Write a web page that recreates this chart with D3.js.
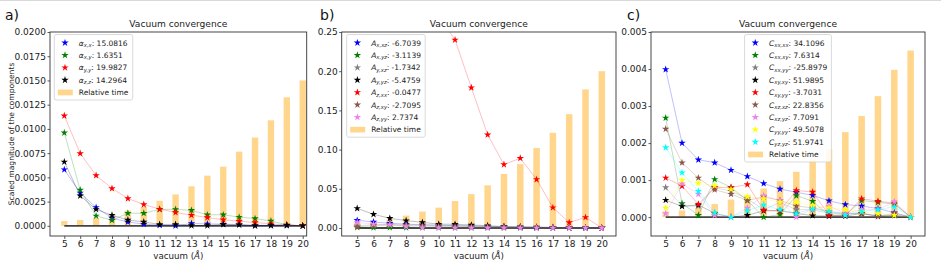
<!DOCTYPE html>
<html>
<head>
<meta charset="utf-8">
<script src="https://cdn.jsdelivr.net/npm/d3@7"></script>
<style>
  body { margin: 0; background: #fff; }
  svg { font-family: "DejaVu Sans", sans-serif; }
</style>
</head>
<body>
<div id="chart"></div>
<script>
// vacuum sizes (x axis categories)
const vacuum = [5, 6, 7, 8, 9, 10, 11, 12, 13, 14, 15, 16, 17, 18, 19, 20];
// relative time, normalised to the 20 Å run
const relTime = [0.033, 0.04, 0.055, 0.079, 0.105, 0.13, 0.172, 0.216, 0.272, 0.345, 0.407, 0.51, 0.607, 0.726, 0.884, 1.0];
const relTimePeak = [0.015, 0.2, 0.0045];

// panel a) polarisability
const alphaXX = [0.0058, 0.0034, 0.0019, 0.0008, 0.0004, 0.00017, 0.00007, 0.0, 0.00024, 0.0002, 0.00017, 0.00014, 0.00005, 0.00005, 0.00003, 0];
const alphaXY = [0.0096, 0.0037, 0.00103, 0.00058, 0.0013, 0.0013, 0.0017, 0.0017, 0.0016, 0.00114, 0.00114, 0.0009, 0.00075, 0.0005, 0.0001, 0];
const alphaYY = [0.01136, 0.00747, 0.0052, 0.00386, 0.00282, 0.0022, 0.00172, 0.00138, 0.0011, 0.00086, 0.00062, 0.00048, 0.00034, 0.0002, 0.0001, 0];
const alphaZZ = [0.0066, 0.0031, 0.0017, 0.0011, 0.0006, 0.0004, 0.00014, 0.00014, 0.00003, 0.00003, 0.00014, 0.0001, 0.0, 0.00003, 0.00007, 0];
const alphaLabels = [["α", "x,x", "15.0816"], ["α", "x,y", "1.6351"], ["α", "y,y", "19.9827"], ["α", "z,z", "14.2964"]];

// panel b) A tensor
const aXxz = [0.0098, 0.0077, 0.006, 0.005, 0.004, 0.0035, 0.003, 0.0025, 0.002, 0.0015, 0.001, 0.0008, 0.0005, 0.0003, 0.0002, 0];
const aXyz = [0.0008, 0.0005, 0.0007, 0.0006, 0.0005, 0.0004, 0.0004, 0.0003, 0.0003, 0.0002, 0.0002, 0.0001, 0.0001, 0.0001, 0.0001, 0];
const aYxz = [0.003, 0.004, 0.0045, 0.004, 0.004, 0.0035, 0.003, 0.0025, 0.002, 0.0015, 0.001, 0.0008, 0.0005, 0.0003, 0.0002, 0];
const aYyz = [0.025, 0.0175, 0.0124, 0.0094, 0.0072, 0.005, 0.0047, 0.0038, 0.003, 0.0017, 0.0015, 0.0012, 0.0008, 0.0005, 0.0004, 0];
const aZxx = [0.62, 0.52, 0.44, 0.37, 0.31, 0.271, 0.240, 0.179, 0.119, 0.081, 0.089, 0.062, 0.026, 0.007, 0.0136, 0];
const aZxy = [0.0015, 0.003, 0.004, 0.003, 0.0025, 0.002, 0.0018, 0.0015, 0.0012, 0.001, 0.0008, 0.0006, 0.0004, 0.0003, 0.0002, 0];
const aZyy = [0.007, 0.005, 0.004, 0.002, 0.0005, 0.0003, 0.0002, 0.0001, 0.0001, 0, 0, 0, 0, 0, 0, 0];
const aLabels = [["A", "x,xz", "-6.7039"], ["A", "x,yz", "-3.1139"], ["A", "y,xz", "-1.7342"], ["A", "y,yz", "-5.4759"],
                 ["A", "z,xx", "-0.0477"], ["A", "z,xy", "-2.7095"], ["A", "z,yy", "2.7374"]];

// panel c) C tensor
const cXXXX = [0.00399, 0.0020, 0.00155, 0.00147, 0.00127, 0.00110, 0.00091, 0.00076, 0.00067, 0.00059, 0.00044, 0.00034, 0.00030, 0.00023, 0.00012, 0];
const cXXXY = [0.00268, 0.00037, 0.00005, 0.00102, 0.0008, 0.00045, 0.0, 0.00007, 0.00058, 0.00043, 0.00005, 0.00005, 0.00045, 0.0004, 0.00035, 0];
const cXXYY = [0.0008, 0.0003, 0.0003, 0.0008, 0.0007, 0.0005, 0.0002, 0.0004, 0.0002, 0.0002, 0.0001, 0.0001, 0.0001, 0.00005, 0.00005, 0];
const cXYXY = [0.00046, 0.00029, 0.00033, 0.0001, 0.0, 0.00005, 0.00017, 0.00017, 0.0001, 0.00004, 0.00003, 0.00003, 0.0001, 0.00002, 0.00005, 0];
const cXYYY = [0.00106, 0.00084, 0.00035, 0.0008, 0.0008, 0.00088, 0.00019, 0.00017, 0.00072, 0.00068, 0.00005, 0.00005, 0.0005, 0.00043, 0.00038, 0];
const cXZXZ = [0.00238, 0.00147, 0.00106, 0.00074, 0.00062, 0.00045, 0.00055, 0.00045, 0.0003, 0.00025, 0.00015, 0.0001, 0.0001, 0.00002, 0.0001, 0];
const cXZYZ = [0.0001, 0.0009, 0.00062, 0.00005, 0.0, 0.00025, 0.00058, 0.00045, 0.0, 0.00022, 0.0003, 0.0001, 0.0002, 0.0002, 0.00042, 0];
const cYYYY = [0.00025, 0.001, 0.00092, 0.00085, 0.00075, 0.00055, 0.0005, 0.0004, 0.0004, 0.0003, 0.00025, 0.0002, 0.00015, 0.0001, 0.00005, 0];
const cYZYZ = [0.00188, 0.0012, 0.0007, 0.00012, 0.0, 0.00017, 0.00033, 0.0002, 0.0001, 0.00022, 0.00015, 0.00005, 0.00015, 0.0002, 0.00028, 0];
const cLabels = [["C", "xx,xx", "34.1096"], ["C", "xx,xy", "7.6314"], ["C", "xx,yy", "-25.8979"], ["C", "xy,xy", "51.9895"],
                 ["C", "xy,yy", "-3.7031"], ["C", "xz,xz", "22.8356"], ["C", "xz,yz", "7.7091"], ["C", "yy,yy", "49.5078"], ["C", "yz,yz", "51.9741"]];

const yTicksA = [0, 0.0025, 0.005, 0.0075, 0.01, 0.0125, 0.015, 0.0175, 0.02];
const yTicksB = [0, 0.05, 0.1, 0.15, 0.2, 0.25];
const yTicksC = [0, 0.001, 0.002, 0.003, 0.004, 0.005];

const panels = [
  { tag: "a)", tagX: 5, left: 50, right: 306.7, xDom: [4.1, 20.25], yDom: [-0.00105, 0.02], ticks: yTicksA, fmt: d3.format(".4f"),
    series: [alphaXX, alphaXY, alphaYY, alphaZZ], colors: ["blue", "green", "red", "black"], labels: alphaLabels,
    legendAnchor: "left", legendDx: 4.3, ylabel: "Scaled magnitude of the components" },
  { tag: "b)", tagX: 320, left: 341.7, right: 616, xDom: [4.05, 20.87], yDom: [-0.0102, 0.25], ticks: yTicksB, fmt: d3.format(".2f"),
    series: [aXxz, aXyz, aYxz, aYyz, aZxx, aZxy, aZyy], colors: ["blue", "green", "gray", "black", "red", "#8c564b", "violet"], labels: aLabels,
    legendAnchor: "left", legendDx: 5 },
  { tag: "c)", tagX: 627, left: 651, right: 925, xDom: [4.1, 20.88], yDom: [-0.00051, 0.005], ticks: yTicksC, fmt: d3.format(".3f"),
    series: [cXXXX, cXXXY, cXXYY, cXYXY, cXYYY, cXZXZ, cXZYZ, cYYYY, cYZYZ],
    colors: ["blue", "green", "gray", "black", "red", "#8c564b", "violet", "yellow", "cyan"], labels: cLabels,
    legendAnchor: "center", legendDx: 0 }
];

const TOP = 32, BOTTOM = 236;

const svg = d3.select("#chart").append("svg")
  .attr("width", 941).attr("height", 274);

svg.append("rect").attr("width", 941).attr("height", 274).attr("fill", "#fff");
svg.append("line").attr("x1", 0).attr("x2", 941).attr("y1", 0.5).attr("y2", 0.5)
  .attr("stroke", "#d9d9d9").attr("stroke-width", 1);

const star = d3.symbol().type(d3.symbolStar).size(17);

panels.forEach((p, pi) => {
  const x = d3.scaleLinear().domain(p.xDom).range([p.left, p.right]);
  const y = d3.scaleLinear().domain(p.yDom).range([BOTTOM, TOP]);
  const g = svg.append("g");

  const clipId = "clip" + pi;
  svg.append("clipPath").attr("id", clipId).append("rect")
    .attr("x", p.left).attr("y", TOP).attr("width", p.right - p.left).attr("height", BOTTOM - TOP);
  const plot = g.append("g").attr("clip-path", `url(#${clipId})`);

  // relative time bars
  const bw = x(0.4) - x(0);
  plot.selectAll("rect.bar").data(vacuum).enter().append("rect")
    .attr("class", "bar")
    .attr("x", d => x(d) - bw / 2)
    .attr("y", (d, i) => y(relTime[i] * relTimePeak[pi]))
    .attr("width", bw)
    .attr("height", (d, i) => y(0) - y(relTime[i] * relTimePeak[pi]))
    .attr("fill", "orange").attr("fill-opacity", 0.45);

  // zero line
  plot.append("line")
    .attr("x1", x(vacuum[0])).attr("x2", x(vacuum[vacuum.length - 1]))
    .attr("y1", y(0)).attr("y2", y(0))
    .attr("stroke", "#444").attr("stroke-width", 1.8);

  const line = d3.line().x((d, i) => x(vacuum[i])).y(d => y(d));
  p.series.forEach((s, si) => {
    plot.append("path").datum(s).attr("d", line)
      .attr("fill", "none").attr("stroke", p.colors[si])
      .attr("stroke-width", 1).attr("stroke-opacity", 0.25);
  });
  p.series.forEach((s, si) => {
    plot.selectAll(null).data(s).enter().append("path")
      .attr("d", star)
      .attr("transform", (d, i) => `translate(${x(vacuum[i])},${y(d)})`)
      .attr("fill", p.colors[si]);
  });

  // frame
  g.append("rect").attr("x", p.left).attr("y", TOP)
    .attr("width", p.right - p.left).attr("height", BOTTOM - TOP)
    .attr("fill", "none").attr("stroke", "#333").attr("stroke-width", 0.9);

  // axes
  const xAxis = g.append("g").attr("transform", `translate(0,${BOTTOM})`)
    .call(d3.axisBottom(x).tickValues(vacuum).tickSize(3).tickPadding(1.5).tickFormat(d3.format("d")));
  const yAxis = g.append("g").attr("transform", `translate(${p.left},0)`)
    .call(d3.axisLeft(y).tickValues(p.ticks).tickSize(2.5).tickPadding(1.5).tickFormat(p.fmt));
  [xAxis, yAxis].forEach(a => {
    a.select(".domain").remove();
    a.selectAll("line").attr("stroke", "#333").attr("stroke-width", 0.8);
    a.selectAll("text").attr("font-size", 9).attr("fill", "#222")
      .attr("font-family", "DejaVu Sans, sans-serif");
  });

  // title, x label, tag
  const cx = (p.left + p.right) / 2;
  g.append("text").attr("x", cx).attr("y", 27).attr("text-anchor", "middle")
    .attr("font-size", 9.1).attr("fill", "#222").text("Vacuum convergence");
  const xl = g.append("text").attr("x", cx).attr("y", 259).attr("text-anchor", "middle")
    .attr("font-size", 8.7).attr("fill", "#222");
  xl.append("tspan").text("vacuum (");
  xl.append("tspan").attr("font-style", "italic").text("Å");
  xl.append("tspan").text(")");
  g.append("text").attr("x", p.tagX).attr("y", 20).attr("font-size", 14).attr("fill", "#111").text(p.tag);

  if (p.ylabel) {
    g.append("text").attr("transform", `translate(14,${(TOP + BOTTOM) / 2}) rotate(-90)`)
      .attr("text-anchor", "middle").attr("font-size", 7.6).attr("fill", "#222").text(p.ylabel);
  }

  // legend
  const rowH = 12.4;
  const nRows = p.labels.length + 1;
  const leg = g.append("g");
  const box = leg.append("rect").attr("rx", 2).attr("fill", "#fff").attr("fill-opacity", 0.85)
    .attr("stroke", "#d0d0d0").attr("stroke-width", 0.8);
  const items = leg.append("g");
  p.labels.forEach((lab, li) => {
    const yy = 8.3 + li * rowH;
    items.append("path").attr("d", star).attr("transform", `translate(10.7,${yy})`).attr("fill", p.colors[li]);
    const t = items.append("text").attr("x", 24.5).attr("y", yy + 2.7).attr("font-size", 7.5).attr("fill", "#222");
    t.append("tspan").attr("font-style", "italic").text(lab[0]);
    t.append("tspan").attr("font-style", "italic").attr("font-size", 5.3).attr("dy", 1.5).text(lab[1]);
    t.append("tspan").attr("dy", -1.5).text(": " + lab[2]);
  });
  const ry = 8.3 + p.labels.length * rowH;
  items.append("rect").attr("x", 3.5).attr("y", ry - 2.8).attr("width", 15).attr("height", 5.7)
    .attr("fill", "orange").attr("fill-opacity", 0.45);
  items.append("text").attr("x", 24.5).attr("y", ry + 2.7).attr("font-size", 7.5).attr("fill", "#222").text("Relative time");

  const bb = items.node().getBBox();
  const w = bb.x + bb.width + 4;
  const h = nRows * rowH + 3.5;
  box.attr("width", w).attr("height", h);
  const lx = p.legendAnchor === "center" ? cx - w / 2 : p.left + p.legendDx;
  leg.attr("transform", `translate(${lx},${TOP + 2.5})`);
});
</script>
</body>
</html>
